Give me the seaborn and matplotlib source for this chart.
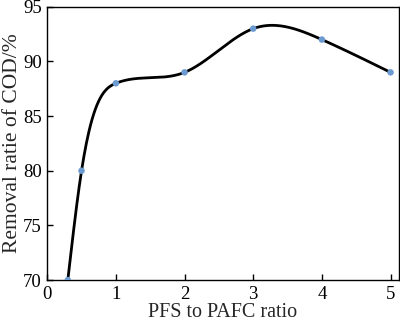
import numpy as np
import pandas as pd
import matplotlib
matplotlib.use("Agg")
import matplotlib.pyplot as plt
import seaborn as sns

ratio = [0.3, 0.5, 1, 2, 3, 4, 5]
removal = [70, 80, 88, 89, 93, 92, 89]

def natural_spline(x, y, xs):
    x = np.asarray(x, float); y = np.asarray(y, float)
    n = len(x)
    h = np.diff(x)
    A = np.zeros((n, n)); b = np.zeros(n)
    A[0, 0] = 1; A[-1, -1] = 1
    for i in range(1, n - 1):
        A[i, i - 1] = h[i - 1]
        A[i, i] = 2 * (h[i - 1] + h[i])
        A[i, i + 1] = h[i]
        b[i] = 3 * ((y[i + 1] - y[i]) / h[i] - (y[i] - y[i - 1]) / h[i - 1])
    c = np.linalg.solve(A, b)
    ys = np.empty_like(xs)
    for k, xv in enumerate(xs):
        i = min(max(np.searchsorted(x, xv) - 1, 0), n - 2)
        dx = xv - x[i]
        bi = (y[i + 1] - y[i]) / h[i] - h[i] * (2 * c[i] + c[i + 1]) / 3
        di = (c[i + 1] - c[i]) / (3 * h[i])
        ys[k] = y[i] + bi * dx + c[i] * dx ** 2 + di * dx ** 3
    return ys

xs = np.linspace(ratio[0], ratio[-1], 400)
ys = natural_spline(ratio, removal, xs)
curve = pd.DataFrame({"x": xs, "y": ys})
pts = pd.DataFrame({"x": ratio, "y": removal})

sns.set_style("white")
plt.rcParams['font.family'] = ['Liberation Serif', 'DejaVu Serif']
plt.rcParams['mathtext.fontset'] = 'stix'

fig, ax = plt.subplots(figsize=(4.0, 3.23), dpi=100)
sns.lineplot(data=curve, x="x", y="y", color="black", linewidth=2, ax=ax, sort=False)
sns.scatterplot(data=pts, x="x", y="y", color="#6b9bd1", s=22, edgecolor="none", ax=ax, zorder=3)

ax.set_xlim(0, 5.12)
ax.set_ylim(70, 95)
ax.set_xticks([0, 1, 2, 3, 4, 5])
ax.set_yticks([70, 75, 80, 85, 90, 95])
ax.tick_params(direction="in", length=4, width=1, labelsize=13.5, colors="black",
               bottom=True, left=True, top=False, right=False, pad=4)
for s in ax.spines.values():
    s.set_color("black"); s.set_linewidth(1)
ax.set_xlabel("PFS to PAFC ratio", fontsize=14.5, labelpad=0)
ax.set_ylabel("Removal ratie of COD/%", fontsize=15.5, labelpad=1)
fig.subplots_adjust(left=0.118, right=0.997, top=0.979, bottom=0.133)
fig.savefig("out.png", dpi=100)
